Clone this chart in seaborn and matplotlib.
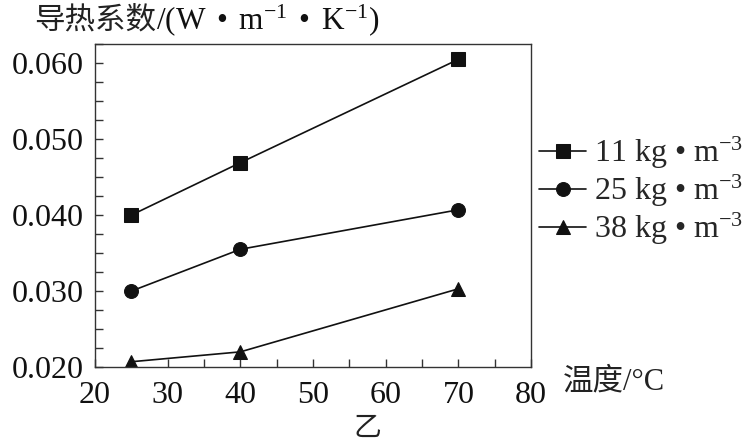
import numpy as np
import pandas as pd
import matplotlib
matplotlib.use("Agg")
import matplotlib.pyplot as plt
from matplotlib.ticker import MultipleLocator, FormatStrFormatter
import seaborn as sns

# 数据
temps = [25, 40, 70]
dens_labels = ["11 kg • m$^{-3}$", "25 kg • m$^{-3}$", "38 kg • m$^{-3}$"]
k_11 = [0.0400, 0.0469, 0.0605]
k_25 = [0.0300, 0.0355, 0.0407]
k_38 = [0.0207, 0.0220, 0.0303]
markers = ["s", "o", "^"]

x_ticks = [20, 30, 40, 50, 60, 70, 80]
y_ticks = [0.020, 0.030, 0.040, 0.050, 0.060]

sns.set_theme(style="ticks")
plt.rcParams["font.family"] = ["Liberation Serif", "Noto Sans CJK SC", "DejaVu Sans"]
plt.rcParams["mathtext.fontset"] = "custom"
plt.rcParams["mathtext.rm"] = "Liberation Serif"
plt.rcParams["mathtext.it"] = "Liberation Serif:italic"

rows = []
for lab, vals in zip(dens_labels, [k_11, k_25, k_38]):
    for t, v in zip(temps, vals):
        rows.append(dict(dens=lab, temp=t, k=v))
df = pd.DataFrame(rows)

fig = plt.figure(figsize=(7.48, 4.46), dpi=100)
ax = fig.add_axes([0.127, 0.177, 0.583, 0.724])

sns.lineplot(data=df, x="temp", y="k", hue="dens", style="dens",
             markers=dict(zip(dens_labels, markers)), dashes=False,
             palette=["#111111"] * 3, markersize=10, linewidth=1.2,
             markeredgecolor="#111111", ax=ax)

ax.set_xlim(20, 80)
ax.set_ylim(0.020, 0.0625)
ax.set_xticks(x_ticks)
ax.set_yticks(y_ticks)
ax.yaxis.set_major_formatter(FormatStrFormatter("%.3f"))
ax.xaxis.set_minor_locator(MultipleLocator(5))
ax.yaxis.set_minor_locator(MultipleLocator(0.0025))
ax.tick_params(which="both", direction="in", length=6, width=1, color="#333333",
               top=False, right=False)
ax.tick_params(which="major", labelsize=23, labelcolor="#111111")
ax.tick_params(axis="x", which="major", pad=10)
ax.tick_params(axis="y", which="major", pad=8)
ax.set_xlabel("")
ax.set_ylabel("")
for sp in ax.spines.values():
    sp.set_visible(True)
    sp.set_color("#333333")
    sp.set_linewidth(1.0)

handles, labels = ax.get_legend_handles_labels()
ax.legend(handles, labels, loc="upper left", bbox_to_anchor=(0.720, 0.698),
          bbox_transform=fig.transFigure, frameon=False, fontsize=23,
          borderpad=0, labelspacing=0.06, handlelength=1.5, handletextpad=0.25,
          borderaxespad=0)

# 标题（中文部分 + 单位部分）
t1 = fig.text(34 / 748, 1 - 20 / 446, "导热系数", family="Noto Sans CJK SC",
              fontsize=22, va="center", ha="left", color="#222222")
fig.canvas.draw()
bb = t1.get_window_extent()
fig.text(bb.x1 / fig.bbox.width, 1 - 20 / 446, r"/(W$\,$ • $\,$m$^{-1}$$\,$ • $\,$K$^{-1}$)",
         fontsize=22.5, va="center", ha="left", color="#111111")

fig.text(563 / 748, 1 - 382 / 446, "温度/°C", fontsize=22, va="center", ha="left",
         color="#222222")
fig.text(367 / 748, 1 - 428 / 446, "乙", family="Noto Sans CJK SC", fontsize=20,
         va="center", ha="center", color="#222222")

fig.savefig("out.png", dpi=100)
